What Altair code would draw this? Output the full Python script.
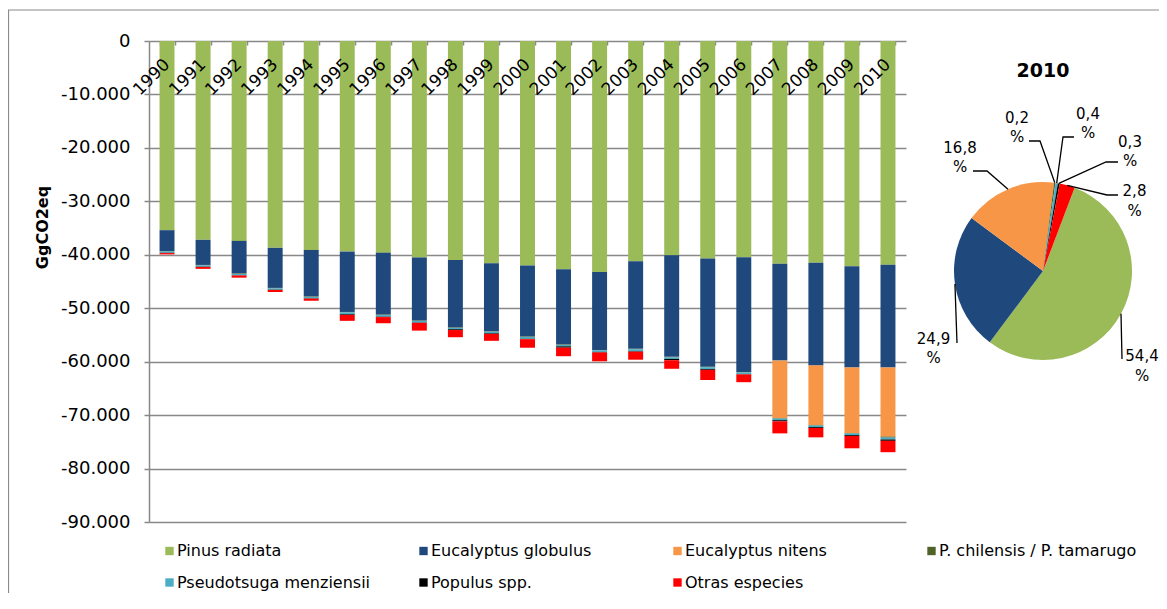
import math
import altair as alt
import pandas as pd

# ---------------- data ----------------
years = [str(y) for y in range(1990, 2011)]
series = ["Pinus radiata", "Eucalyptus globulus", "Eucalyptus nitens",
          "P. chilensis / P. tamarugo", "Pseudotsuga menziensii",
          "Populus spp.", "Otras especies"]
colors = ["#9BBB59", "#1F497D", "#F79646", "#4F6228", "#4BACC6", "#000000", "#FF0000"]

pinus = [35400, 37200, 37400, 38700, 39100, 39400, 39600, 40500, 41000, 41600,
         42000, 42700, 43200, 41200, 40100, 40700, 40450, 41700, 41500, 42150, 41880]
globulus = [3900, 4700, 6100, 7500, 8700, 11300, 11600, 11800, 12600, 12700,
            13300, 14100, 14600, 16400, 19000, 20250, 21500, 18100, 19200, 18950, 19190]
nitens = [0, 0, 0, 0, 0, 0, 0, 0, 0, 0,
          0, 0, 0, 0, 0, 0, 0, 10750, 11150, 12250, 12960]
chilensis = [80, 80, 80, 80, 80, 80, 80, 80, 80, 80,
             80, 80, 80, 80, 80, 80, 80, 100, 100, 100, 185]
pseudotsuga = [250, 250, 250, 250, 250, 350, 300, 300, 250, 300,
               350, 250, 300, 350, 300, 350, 300, 300, 300, 300, 340]
populus = [50, 50, 50, 50, 70, 130, 80, 60, 150, 120,
           60, 250, 100, 100, 250, 150, 60, 220, 160, 160, 260]
otras = [250, 350, 400, 390, 400, 1100, 1150, 1450, 1350, 1300,
         1600, 1600, 1650, 1500, 1600, 1900, 1450, 2250, 1750, 2300, 2125]

values_by_series = [pinus, globulus, nitens, chilensis, pseudotsuga, populus, otras]

rows = []
for si, (name, vals) in enumerate(zip(series, values_by_series)):
    for y, v in zip(years, vals):
        rows.append({"year": y, "series": name, "idx": si, "value": -v})
df = pd.DataFrame(rows)

# ---------------- layout (pixels) ----------------
PAD_L, PAD_T = 141, 33
W, H = 757, 481
TOTAL_W, TOTAL_H = 1151, 585
GRAY = "#888888"
FONT = "DejaVu Sans"

PIE_CX, PIE_CY, PIE_R = 894, 230, 89
T0 = math.radians(20.8)

# label layout for the pie, relative to pie centre:
# (first-line centre of the label, leader points after the slice edge)
pie_layout = {
    "Pinus radiata": ((99, 85), [(79, 88)]),
    "Eucalyptus globulus": ((-109.5, 67.5), [(-86, 72)]),
    "Eucalyptus nitens": ((-83, -123.5), [(-56, -100), (-70, -100)]),
    "P. chilensis / P. tamarugo": ((-26, -153.5), [(-3, -130), (-14, -130)]),
    "Pseudotsuga menziensii": ((45, -157.5), [(20, -134), (31, -134)]),
    "Populus spp.": ((87, -129.5), [(63, -109), (75, -109)]),
    "Otras especies": ((91.5, -80), [(64, -76), (75, -76)]),
}

color_scale = alt.Scale(domain=series, range=colors)
x_scale = alt.Scale(domain=years, paddingInner=0.585, paddingOuter=0.2925)

# ---------------- bars ----------------
bars = alt.Chart(df).mark_bar().encode(
    x=alt.X("year:N", sort=years, scale=x_scale,
            axis=alt.Axis(orient="top", labels=False, domain=False, grid=False,
                          ticks=True, tickBand="extent", tickSize=4, offset=-4,
                          tickColor=GRAY, tickWidth=1.5, title=None)),
    y=alt.Y("value:Q", stack="zero",
            scale=alt.Scale(domain=[-90000, 0], nice=False, zero=False),
            axis=alt.Axis(values=list(range(-90000, 1, 10000)),
                          labelExpr="(datum.value < 0 ? '-' : '') + replace(format(abs(datum.value), ','), ',', '.')",
                          labelFont=FONT, labelFontSize=18, labelColor="black",
                          labelPadding=14, tickSize=5, tickColor=GRAY, tickWidth=1.5,
                          domainColor=GRAY, domainWidth=1.5,
                          grid=True, gridColor=GRAY, gridWidth=1.5,
                          title="GgCO2eq", titleFont=FONT, titleFontSize=16,
                          titleFontWeight="bold", titleColor="black",
                          titleAngle=270, titleX=-107, titleY=186,
                          titleAlign="center", titleBaseline="middle")),
    color=alt.Color("series:N", scale=color_scale, legend=None),
    order=alt.Order("idx:Q", sort="ascending"),
)

year_labels = alt.Chart(pd.DataFrame({"year": years})).mark_text(
    angle=315, align="right", baseline="middle", font=FONT, fontSize=17, color="black"
).encode(
    x=alt.X("year:N", sort=years, scale=x_scale),
    y=alt.value(21),
    text="year:N",
)

# ---------------- pie (2010) ----------------
pie_vals = [vals[-1] for vals in values_by_series]
pie_total = sum(pie_vals)
pie_df = pd.DataFrame({"series": series, "idx": list(range(len(series))), "value": pie_vals})

pie = alt.Chart(pie_df).mark_arc(outerRadius=PIE_R).encode(
    theta=alt.Theta("value:Q", stack=True, scale=alt.Scale(range=[T0, T0 + 2 * math.pi])),
    color=alt.Color("series:N", scale=color_scale, legend=None),
    order=alt.Order("idx:Q", sort="ascending"),
    x=alt.value(PIE_CX),
    y=alt.value(PIE_CY),
)

lead_rows, lab_rows = [], []
cum = 0
for name, v in zip(series, pie_vals):
    mid = T0 + 2 * math.pi * (cum + v / 2) / pie_total
    cum += v
    (lx, ly), pts = pie_layout[name]
    path = [(PIE_R * math.sin(mid), -PIE_R * math.cos(mid))] + pts
    for k, (px, py) in enumerate(path):
        lead_rows.append({"series": name, "k": k, "px": PIE_CX + px, "py": PIE_CY + py})
    pct = f"{100 * v / pie_total:.1f}".replace(".", ",")
    lab_rows.append({"series": name, "label": pct + "\n%", "lx": PIE_CX + lx, "ly": PIE_CY + ly})

leaders = alt.Chart(pd.DataFrame(lead_rows)).mark_line(color="black", strokeWidth=1.3).encode(
    x=alt.X("px:Q", scale=None, axis=None),
    y=alt.Y("py:Q", scale=None, axis=None),
    detail="series:N",
    order="k:Q",
)

pie_labels = alt.Chart(pd.DataFrame(lab_rows)).mark_text(
    font=FONT, fontSize=15, lineBreak="\n", lineHeight=19.5,
    align="center", baseline="middle", color="black"
).encode(
    x=alt.X("lx:Q", scale=None, axis=None),
    y=alt.Y("ly:Q", scale=None, axis=None),
    text="label:N",
)

pie_title = alt.Chart(pd.DataFrame({"t": [years[-1]]})).mark_text(
    font=FONT, fontSize=19, fontWeight="bold", color="black"
).encode(x=alt.value(PIE_CX), y=alt.value(30), text="t:N")

# ---------------- legend ----------------
leg_df = pd.DataFrame({"series": series, "idx": list(range(len(series)))})
leg_base = alt.Chart(leg_df).transform_calculate(
    lx="16 + (datum.idx % 4) * 254",
    ly="510 + floor(datum.idx / 4) * 31.5",
)
leg_sq = leg_base.transform_calculate(sx="datum.lx + 4.5").mark_square(
    size=70, opacity=1, filled=True
).encode(
    x=alt.X("sx:Q", scale=None, axis=None),
    y=alt.Y("ly:Q", scale=None, axis=None),
    color=alt.Color("series:N", scale=color_scale, legend=None),
)
leg_tx = leg_base.transform_calculate(tx="datum.lx + 12").mark_text(
    align="left", baseline="middle", font=FONT, fontSize=16, color="black"
).encode(
    x=alt.X("tx:Q", scale=None, axis=None),
    y=alt.Y("ly:Q", scale=None, axis=None),
    text="series:N",
)

# ---------------- frame ----------------
frame = alt.Chart(pd.DataFrame({"a": [0]})).mark_rect(
    filled=False, stroke="#8a8a8a", strokeWidth=1.2
).encode(
    x=alt.value(-PAD_L + 0.5), x2=alt.value(2000),
    y=alt.value(-31), y2=alt.value(2000),
)

chart = alt.layer(
    frame, bars, year_labels, pie, leaders, pie_labels, pie_title, leg_sq, leg_tx
).properties(
    width=W, height=H,
    autosize=alt.AutoSizeParams(type="none"),
    padding={"left": PAD_L, "top": PAD_T,
             "right": TOTAL_W - PAD_L - W, "bottom": TOTAL_H - PAD_T - H},
    background="white",
).configure_view(stroke=None)

chart.save("out.html", embed_options={"renderer": "svg", "actions": False})
